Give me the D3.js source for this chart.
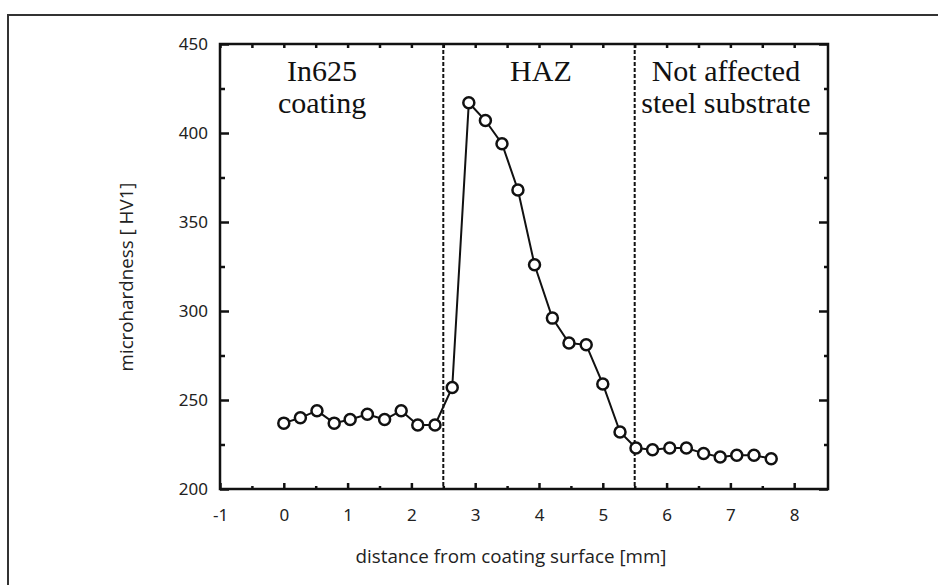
<!DOCTYPE html>
<html>
<head>
<meta charset="utf-8">
<script src="https://cdn.jsdelivr.net/npm/d3@7"></script>
<style>
  body { margin: 0; background: #fff; }
  svg { display: block; }
  .tick text { font-family: "Noto Sans", "DejaVu Sans", sans-serif; font-size: 17px; fill: #222; }
  .domain { display: none; }
</style>
</head>
<body>
<div id="chart"></div>
<script>
// distance from coating surface [mm]
let distance = [0, 0.26, 0.52, 0.79, 1.04, 1.31, 1.58, 1.84, 2.1, 2.37, 2.64,
  2.9, 3.16, 3.42, 3.67, 3.93, 4.21, 4.47, 4.74, 5.0, 5.27,
  5.52, 5.78, 6.05, 6.31, 6.58, 6.84, 7.1, 7.37, 7.64]
// microhardness HV1
let hardness = [237, 240, 244, 237, 239, 242, 239, 244, 236, 236, 257,
  417, 407, 394, 368, 326, 296, 282, 281, 259, 232,
  223, 222, 223, 223, 220, 218, 219, 219, 217]
let xTicks = [-1, 0, 1, 2, 3, 4, 5, 6, 7, 8]
let yTicks = [200, 250, 300, 350, 400, 450]
let zoneBounds = [2.5, 5.5]
let zoneLabels = [
  { x: 0.6, lines: ["In625", "coating"] },
  { x: 4.03, lines: ["HAZ"] },
  { x: 6.93, lines: ["Not affected", "steel substrate"] }
]

let W = 938, H = 585
let pLeft = 220, pRight = 828, pTop = 44, pBottom = 489

let svg = d3.select("#chart").append("svg").attr("width", W).attr("height", H)

// outer frame
svg.append("path")
  .attr("d", `M8,${H + 5}V15H${W + 5}`)
  .attr("fill", "none").attr("stroke", "#333").attr("stroke-width", 2)

let x = d3.scaleLinear().domain([-1, 8.53]).range([pLeft, pRight])
let y = d3.scaleLinear().domain([200, 450]).range([pBottom, pTop])

let xMinor = d3.range(-0.5, 8.5, 1)
let yMinor = d3.range(225, 450, 50)

let styleAxis = g => {
  g.selectAll(".tick line").attr("stroke", "#111").attr("stroke-width", 2.5)
}

// bottom
svg.append("g").attr("transform", `translate(0,${pBottom})`)
  .call(d3.axisBottom(x).tickValues(xTicks).tickSize(-6).tickPadding(20).tickFormat(d => String(d)))
  .call(styleAxis)
svg.append("g").attr("transform", `translate(0,${pBottom})`)
  .call(d3.axisBottom(x).tickValues(xMinor).tickSize(-3).tickFormat(""))
  .call(styleAxis)
// top
svg.append("g").attr("transform", `translate(0,${pTop})`)
  .call(d3.axisTop(x).tickValues(xTicks.concat(xMinor)).tickSize(-4).tickFormat(""))
  .call(styleAxis)
// left
svg.append("g").attr("transform", `translate(${pLeft},0)`)
  .call(d3.axisLeft(y).tickValues(yTicks).tickSize(-9).tickPadding(12))
  .call(styleAxis)
svg.append("g").attr("transform", `translate(${pLeft},0)`)
  .call(d3.axisLeft(y).tickValues(yMinor).tickSize(-5).tickFormat(""))
  .call(styleAxis)
// right
svg.append("g").attr("transform", `translate(${pRight},0)`)
  .call(d3.axisRight(y).tickValues(yTicks).tickSize(-9).tickFormat(""))
  .call(styleAxis)
svg.append("g").attr("transform", `translate(${pRight},0)`)
  .call(d3.axisRight(y).tickValues(yMinor).tickSize(-4).tickFormat(""))
  .call(styleAxis)

// plot box
svg.append("rect")
  .attr("x", pLeft).attr("y", pTop).attr("width", pRight - pLeft).attr("height", pBottom - pTop)
  .attr("fill", "none").attr("stroke", "#111").attr("stroke-width", 2.5)

// zone boundaries
svg.selectAll(".zone").data(zoneBounds).enter().append("line")
  .attr("x1", d => x(d)).attr("x2", d => x(d))
  .attr("y1", pTop).attr("y2", pBottom)
  .attr("stroke", "#111").attr("stroke-width", 2).attr("stroke-dasharray", "4,2")

// zone labels
zoneLabels.forEach(z => {
  z.lines.forEach((t, i) => {
    svg.append("text")
      .attr("x", x(z.x)).attr("y", 81 + i * 32)
      .attr("text-anchor", "middle")
      .attr("font-family", "'Liberation Serif', 'Times New Roman', serif")
      .attr("font-size", 30).attr("fill", "#111")
      .text(t)
  })
})

// data
let pts = distance.map((d, i) => [d, hardness[i]])
svg.append("path")
  .attr("d", d3.line().x(d => x(d[0])).y(d => y(d[1]))(pts))
  .attr("fill", "none").attr("stroke", "#111").attr("stroke-width", 2)

svg.selectAll(".pt").data(pts).enter().append("circle")
  .attr("cx", d => x(d[0])).attr("cy", d => y(d[1]))
  .attr("r", 5.5).attr("fill", "#fff").attr("stroke", "#111").attr("stroke-width", 2.5)

// axis titles
svg.append("text")
  .attr("x", 511).attr("y", 563)
  .attr("text-anchor", "middle")
  .attr("font-family", "'Open Sans', Lato, sans-serif").attr("font-size", 18.8).attr("fill", "#222")
  .text("distance from coating surface [mm]")
svg.append("text")
  .attr("transform", `translate(133,277) rotate(-90)`)
  .attr("text-anchor", "middle")
  .attr("font-family", "'Open Sans', Lato, sans-serif").attr("font-size", 18.8).attr("fill", "#222")
  .text("microhardness [ HV1]")
</script>
</body>
</html>
